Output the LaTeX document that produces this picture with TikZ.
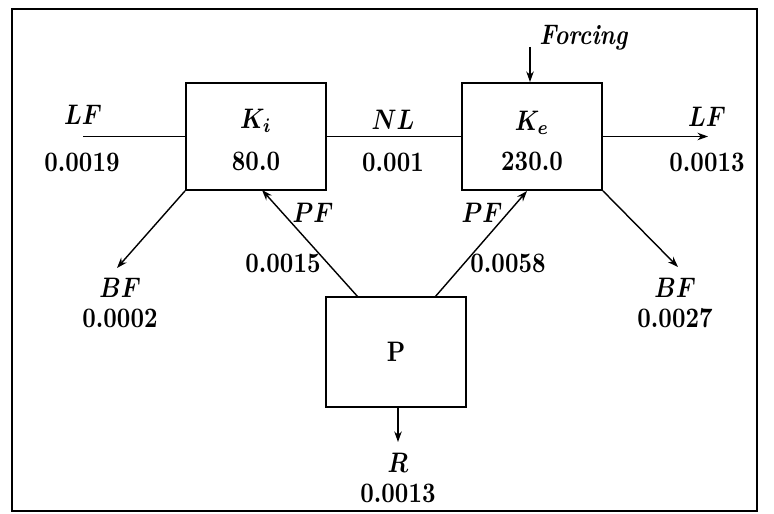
\documentclass[tikz,border=0pt]{standalone}
\usepackage{graphicx}
\usepackage{bm}
\usetikzlibrary{arrows.meta}
\newcommand{\tall}[1]{\scalebox{1}[1.2]{#1}}
\tikzset{
  flowbox/.style={draw, line width=0.8pt, minimum width=59.6pt, minimum height=45.5pt, inner sep=0pt},
  lbl/.style={inner sep=0pt, font=\bfseries},
  flow/.style={line width=0.6pt},
  flowarrow/.style={line width=0.6pt, -{Stealth[length=4.5pt,width=3.2pt]}}
}
\begin{document}
\begin{tikzpicture}[x=0.4255pt, y=-0.4255pt]
\useasboundingbox (0,0) rectangle (774,514);
% frame
\draw[line width=1.2pt] (12,9) rectangle (757,511);
% boxes
\node[flowbox] (Ki) at (256,136.5) {};
\node[flowbox] (Ke) at (532,136.5) {};
\node[flowbox, minimum height=46.8pt] (P) at (396,352) {};
% box texts
\node[lbl] (Kilab) at (256,121) {\tall{$\bm{K_i}$}};
\node[lbl] (Kival) at (256,161) {\tall{80.0}};
\node[lbl] (Kelab) at (532,123) {\tall{$\bm{K_e}$}};
\node[lbl] (Keval) at (532,161) {\tall{230.0}};
\node[lbl] (Plab) at (396,352) {\tall{P}};
% coordinates
\coordinate (lfL) at (83,136.5);
\coordinate (lfR) at (708,136.5);
\coordinate (fTop) at (530,47);
\coordinate (fBot) at (530,82);
\coordinate (bfL) at (117,268);
\coordinate (bfR) at (678,267);
\coordinate (pfLs) at (358,297);
\coordinate (pfLe) at (262,190);
\coordinate (pfRs) at (435,297);
\coordinate (pfRe) at (527,191);
\coordinate (rS) at (398,407);
\coordinate (rE) at (398,442);
% connectors
\draw[flow] (lfL) -- (Ki.west);
\draw[flow] (Ki.east) -- (Ke.west);
\draw[flowarrow] (Ke.east) -- (lfR);
\draw[flowarrow] (fTop) -- (fBot);
\draw[flowarrow] (Ki.south west) -- (bfL);
\draw[flowarrow] (Ke.south east) -- (bfR);
\draw[flowarrow] (pfLs) -- (pfLe);
\draw[flowarrow] (pfRs) -- (pfRe);
\draw[flowarrow] (rS) -- (rE);
% labels
\node[lbl] (lfLt) at (83,115) {\tall{$\bm{LF}$}};
\node[lbl] (lfLv) at (82,162) {\tall{0.0019}};
\node[lbl] (nlt) at (393,120) {\tall{$\bm{NL}$}};
\node[lbl] (nlv) at (393,162) {\tall{0.001}};
\node[lbl] (lfRt) at (707,117) {\tall{$\bm{LF}$}};
\node[lbl] (lfRv) at (707,162) {\tall{0.0013}};
\node[lbl, anchor=west] (forc) at (539,38) {\tall{\textit{Forcing}}};
\node[lbl] (bfLt) at (120,288) {\tall{$\bm{BF}$}};
\node[lbl] (bfLv) at (120,318) {\tall{0.0002}};
\node[lbl] (bfRt) at (675,288) {\tall{$\bm{BF}$}};
\node[lbl] (bfRv) at (675,318) {\tall{0.0027}};
\node[lbl] (pfLt) at (313,213) {\tall{$\bm{PF}$}};
\node[lbl] (pfLv) at (283,263) {\tall{0.0015}};
\node[lbl] (pfRt) at (482,213) {\tall{$\bm{PF}$}};
\node[lbl] (pfRv) at (508,263) {\tall{0.0058}};
\node[lbl] (rt) at (398,463) {\tall{$\bm{R}$}};
\node[lbl] (rv) at (398,493) {\tall{0.0013}};
\end{tikzpicture}
\end{document}
